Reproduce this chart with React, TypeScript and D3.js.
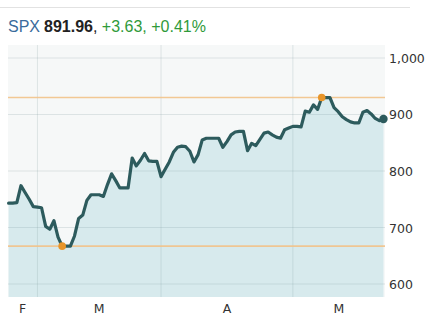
import React from "react";
import * as d3 from "d3";

// Daily series (calendar days, weekends carry values)
const startDate = "2009-02-21";
const values: number[] = [
  // Feb 21 - Feb 28
  743, 743, 744, 774, 762, 750, 737, 736,
  // Mar 1 - Mar 31
  735, 702, 697, 712, 683, 667, 667, 667, 685, 716, 722, 748, 758, 758, 758, 755,
  776, 795, 783, 770, 770, 770, 823, 809, 819, 831, 818, 817, 817, 790, 803,
  // Apr 1 - Apr 30
  816, 833, 842, 844, 843, 835, 816, 829, 855, 858, 858, 858, 858, 842, 852,
  864, 869, 870, 870, 836, 849, 845, 856, 867, 869, 864, 860, 858, 873, 876,
  // May 1 - May 23
  879, 879, 878, 906, 904, 917, 909, 930, 930, 930, 912, 905, 896, 891, 887,
  885, 885, 904, 907, 901, 893, 889, 891.96,
];

const gridDates = ["2009-02-28", "2009-03-30", "2009-05-01"];
const monthLabels = ["F", "M", "A", "M"];
const yTicks = [600, 700, 800, 900, 1000];

const symbol = "SPX";
const lastText = "891.96";
const changeText = "+3.63, +0.41%";

const W = 432;
const H = 326;
const plot = { left: 8, right: 385, top: 45, bottom: 297 };

export default function App() {
  const parse = d3.timeParse("%Y-%m-%d");
  const start = parse(startDate) as Date;
  const dates = values.map((_, i) => d3.timeDay.offset(start, i));
  const data = values.map((v, i) => ({ date: dates[i], value: v }));

  const x = d3
    .scaleTime()
    .domain([dates[0], dates[dates.length - 1]])
    .range([8.6, 383.5]);
  const y = d3.scaleLinear().domain([577, 1023]).range([plot.bottom, plot.top]);

  const line = d3
    .line<{ date: Date; value: number }>()
    .x((d) => x(d.date))
    .y((d) => y(d.value));
  const area = d3
    .area<{ date: Date; value: number }>()
    .x((d) => x(d.date))
    .y0(plot.bottom)
    .y1((d) => y(d.value));

  const lowI = d3.minIndex(values);
  const highI = d3.maxIndex(values);
  const last = data[data.length - 1];

  const gx = gridDates.map((s) => x(parse(s) as Date));
  const bounds = [plot.left, ...gx, plot.right];
  const labelX = monthLabels.map((_, i) => (bounds[i] + bounds[i + 1]) / 2);

  const font = "'Liberation Sans', Arial, sans-serif";
  const axisFont = "'DejaVu Sans', Verdana, sans-serif";

  return (
    <svg
      width={W}
      height={H}
      style={{ position: "absolute", left: 0, top: 0, background: "#fff" }}
    >
      <line x1={0} x2={410} y1={7.5} y2={7.5} stroke="#e2e2e2" strokeWidth={1} />
      <text x={8} y={31.5} fontFamily={font} fontSize={16}>
        <tspan fill="#3a6b9c">{symbol}</tspan>
        <tspan fill="#222" fontWeight="bold" dx={4}>
          {lastText}
        </tspan>
        <tspan fill="#222">, </tspan>
        <tspan fill="#2f9a3a">{changeText}</tspan>
      </text>

      <rect
        x={plot.left}
        y={plot.top}
        width={plot.right - plot.left}
        height={plot.bottom - plot.top}
        fill="#f6f8f8"
      />
      <path d={area(data) || ""} fill="#d7eaed" />

      {yTicks.map((t) => (
        <line
          key={"h" + t}
          x1={plot.left}
          x2={plot.right}
          y1={y(t)}
          y2={y(t)}
          stroke="#7f9ba0"
          strokeOpacity={0.22}
          strokeWidth={1}
        />
      ))}
      {gx.map((g, i) => (
        <line
          key={"v" + i}
          x1={g}
          x2={g}
          y1={plot.top}
          y2={plot.bottom}
          stroke="#7f9ba0"
          strokeOpacity={0.22}
          strokeWidth={1}
        />
      ))}

      <line
        x1={plot.left}
        x2={plot.right}
        y1={y(values[highI])}
        y2={y(values[highI])}
        stroke="#f2c38a"
        strokeWidth={1.6}
        opacity={0.9}
      />
      <line
        x1={plot.left}
        x2={plot.right}
        y1={y(values[lowI])}
        y2={y(values[lowI])}
        stroke="#f2c38a"
        strokeWidth={1.6}
        opacity={0.9}
      />

      <path
        d={line(data) || ""}
        fill="none"
        stroke="#2d5b5d"
        strokeWidth={3.2}
        strokeLinejoin="round"
        strokeLinecap="round"
      />

      <circle cx={x(data[lowI].date)} cy={y(values[lowI])} r={3.8} fill="#e8952a" />
      <circle cx={x(data[highI].date)} cy={y(values[highI])} r={3.8} fill="#e8952a" />
      <circle cx={x(last.date)} cy={y(last.value)} r={4.2} fill="#2d5b5d" />

      {yTicks.map((t) => (
        <text
          key={"yl" + t}
          x={389}
          y={y(t) + 5}
          fontFamily={axisFont}
          fontSize={12.5}
          fill="#333"
        >
          {d3.format(",")(t)}
        </text>
      ))}
      {monthLabels.map((m, i) => (
        <text
          key={"xl" + i}
          x={labelX[i]}
          y={313}
          textAnchor="middle"
          fontFamily={axisFont}
          fontSize={12.5}
          fill="#333"
        >
          {m}
        </text>
      ))}
    </svg>
  );
}
